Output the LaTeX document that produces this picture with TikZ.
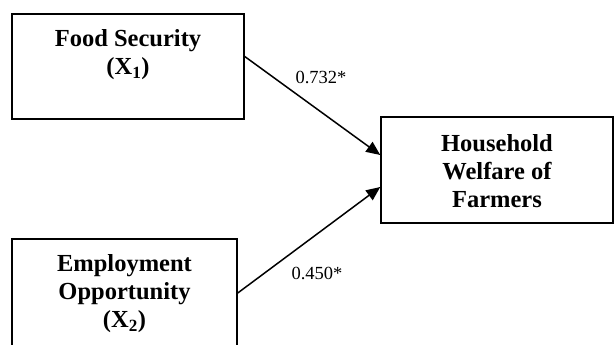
\documentclass[tikz,border=0pt]{standalone}
\usepackage{fontspec}
\setmainfont{Liberation Serif}
\usetikzlibrary{positioning,arrows.meta}

\tikzset{
    varbox/.style={draw, line width=1.5pt, inner sep=0pt},
    vartext/.style={align=center, font=\fontsize{24.5}{28}\selectfont\bfseries},
    coef/.style={font=\fontsize{18.5}{20}\selectfont},
    effect/.style={line width=1.5pt, -{Triangle[length=14pt, width=12pt]}}
}

\begin{document}
\begin{tikzpicture}[x=1pt, y=-1pt]
    \useasboundingbox (0,0) rectangle (614,345);
    \clip (0,0) rectangle (614,345);

    % Independent variables
    \node [varbox, minimum width=232pt, minimum height=105pt] (food) at (128,66.5) {};
    \node [vartext] (foodtext) at (128,55) {Food Security\\(X\textsubscript{1})};
    \node [varbox, minimum width=225pt, minimum height=112pt] (employ) at (124.5,295) {};
    \node [vartext] (employtext) at (124.5,294) {Employment\\Opportunity\\(X\textsubscript{2})};

    % Dependent variable
    \node [varbox, minimum width=232pt, minimum height=106pt] (welfare) at (497,170) {};
    \node [vartext] (welfaretext) at (497,171) {Household\\Welfare of\\Farmers};

    % Paths
    \draw [effect] ([yshift=10pt]food.east) -- ([yshift=15pt]welfare.west);
    \draw [effect] ([yshift=2pt]employ.east) -- ([yshift=-17pt]welfare.west);
    \node [coef] (coefone) at (321,77) {0.732*};
    \node [coef] (coeftwo) at (317,273) {0.450*};
\end{tikzpicture}
\end{document}
